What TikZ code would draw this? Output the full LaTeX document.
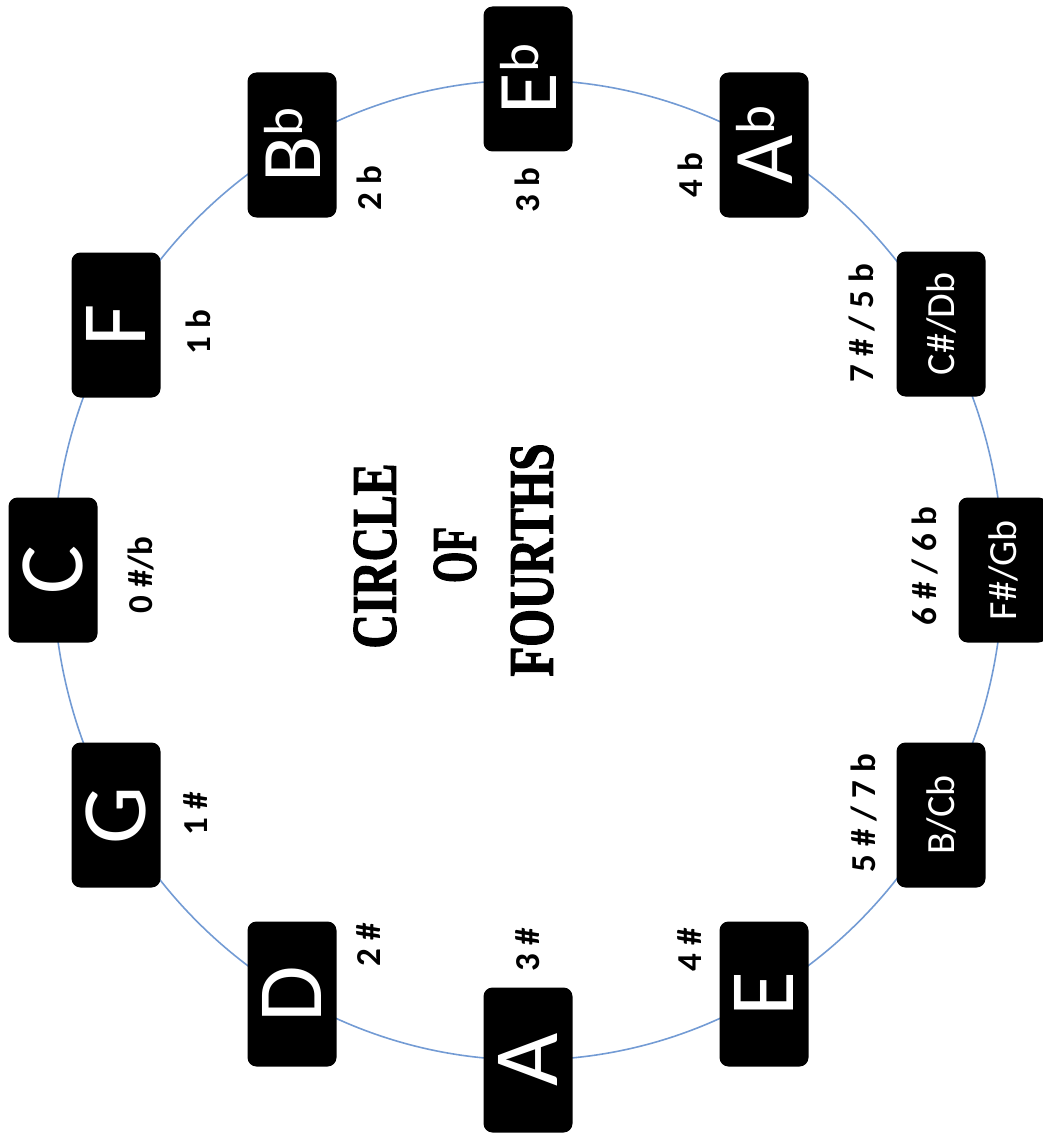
\documentclass[tikz,border=0pt]{standalone}
\usepackage{fontspec}
\setmainfont{Carlito}
\newfontfamily\titlefont{Liberation Serif Bold}[FakeBold=2.5]
\definecolor{ringblue}{RGB}{115,155,212}
\tikzset{
  keybox/.style={rectangle, fill=black, rounded corners=9pt, minimum width=145pt,
    minimum height=89pt, rotate=90, text=white, inner sep=0pt, align=center},
  bigkey/.style={keybox, font=\fontsize{92}{92}\selectfont},
  flatkey/.style={keybox, font=\fontsize{85}{85}\selectfont},
  smallkey/.style={keybox, font=\fontsize{40}{40}\selectfont},
  sig/.style={rotate=90, font=\bfseries\fontsize{35}{35}\selectfont, inner sep=0pt},
  titletext/.style={rotate=90, font=\titlefont\fontsize{63}{63}\selectfont, inner sep=0pt},
  ring/.style={draw=ringblue, line width=1.6pt}
}
\newcommand{\flt}{\raisebox{18pt}{\fontsize{55}{55}\selectfont b}}
\begin{document}
\begin{tikzpicture}[x=1pt,y=-1pt]
\useasboundingbox (0,0) rectangle (1042,1142);
\coordinate (center) at (528,570);
\draw[ring] (center) ellipse [x radius=475pt, y radius=490pt];
% keys
\node[flatkey] (Eb) at (528,79) {E\flt};
\node[flatkey] (Bb) at (292,145) {B\flt};
\node[flatkey] (Ab) at (764,145) {A\flt};
\node[bigkey] (F) at (116,325) {F};
\node[smallkey] (Db) at (941,324) {C\#/Db};
\node[bigkey] (C) at (53,570) {C};
\node[smallkey] (Gb) at (1003,570) {F\#/Gb};
\node[bigkey] (G) at (116,815) {G};
\node[smallkey] (Cb) at (941,815) {B/Cb};
\node[bigkey] (D) at (292,994) {D};
\node[bigkey] (E) at (764,994) {E};
\node[bigkey] (A) at (528,1060) {A};
% signatures
\node[sig] (s3b) at (527,190) {3 b};
\node[sig] (s2b) at (369,188) {2 b};
\node[sig] (s4b) at (690,175) {4 b};
\node[sig] (s1b) at (198,332) {1 b};
\node[sig] (s5b) at (862,323) {7 \# / 5 b};
\node[sig] (s0) at (141,575) {0 \#/b};
\node[sig] (s6b) at (925,566) {6 \# / 6 b};
\node[sig] (s1s) at (196,814) {1 \#};
\node[sig] (s7b) at (864,813) {5 \# / 7 b};
\node[sig] (s2s) at (369,945) {2 \#};
\node[sig] (s3s) at (528,950) {3 \#};
\node[sig] (s4s) at (690,950) {4 \#};
% title
\node[titletext] (t1) at (375,556) {\scalebox{0.755}[1]{CIRCLE}};
\node[titletext] (t2) at (455,555) {\scalebox{0.64}[1]{OF}};
\node[titletext] (t3) at (532,560) {\scalebox{0.77}[1]{FOURTHS}};
\end{tikzpicture}
\end{document}
